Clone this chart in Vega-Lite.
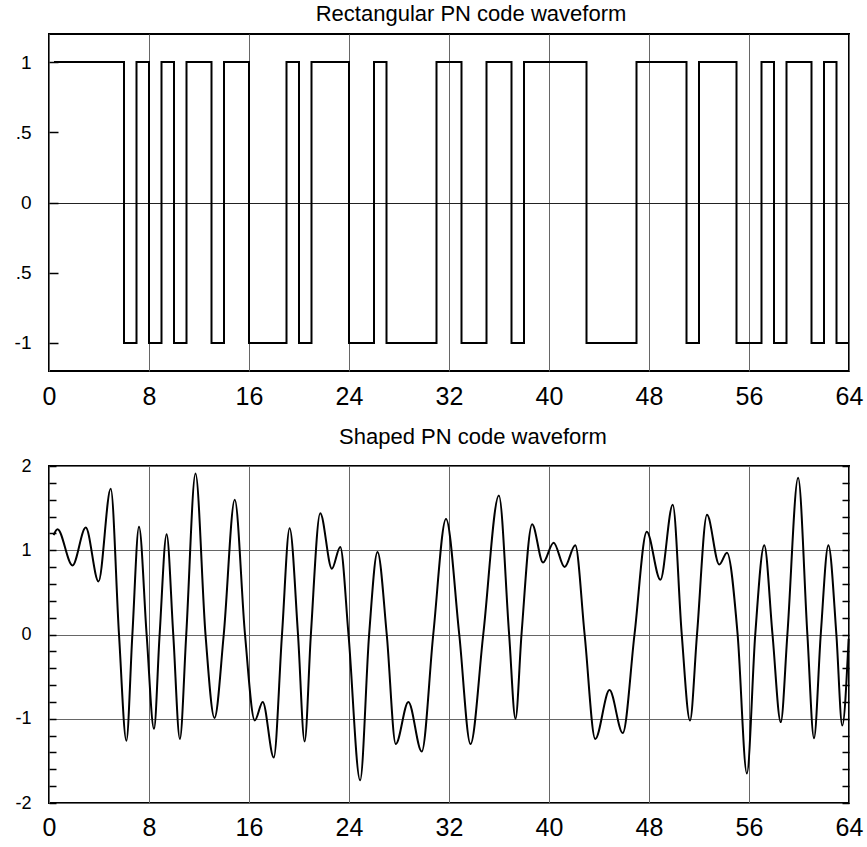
{
  "$schema": "https://vega.github.io/schema/vega-lite/v6.json",
  "background": "white",
  "padding": {"left": 13, "top": 2, "right": 2, "bottom": 0},
  "autosize": {"type": "pad"},
  "config": {
    "font": "Liberation Sans",
    "view": {"stroke": "black", "strokeWidth": 2},
    "axis": {"domain": false, "labelColor": "black", "labelFont": "Liberation Sans", "gridColor": "#666666", "gridWidth": 1, "tickColor": "black", "tickWidth": 1.5, "labelFlush": false, "labelOverlap": false, "title": null},
    "title": {"font": "Liberation Sans", "fontSize": 22, "fontWeight": "normal", "color": "black"},
    "concat": {"spacing": 15}
  },
  "datasets": {
    "rect": [
      {"t": 0.4, "v": 1}, {"t": 6, "v": -1}, {"t": 7, "v": 1}, {"t": 8, "v": -1}, {"t": 9, "v": 1}, {"t": 10, "v": -1},
      {"t": 11, "v": 1}, {"t": 13, "v": -1}, {"t": 14, "v": 1}, {"t": 16, "v": -1}, {"t": 19, "v": 1}, {"t": 20, "v": -1},
      {"t": 21, "v": 1}, {"t": 24, "v": -1}, {"t": 26, "v": 1}, {"t": 27, "v": -1}, {"t": 31, "v": 1}, {"t": 33, "v": -1},
      {"t": 35, "v": 1}, {"t": 37, "v": -1}, {"t": 38, "v": 1}, {"t": 43, "v": -1}, {"t": 47, "v": 1}, {"t": 51, "v": -1},
      {"t": 52, "v": 1}, {"t": 55, "v": -1}, {"t": 57, "v": 1}, {"t": 58, "v": -1}, {"t": 59, "v": 1}, {"t": 61, "v": -1},
      {"t": 62, "v": 1}, {"t": 63, "v": -1}, {"t": 64, "v": -1}
    ],
    "shaped": [
      {"t": 0.37, "v": 1.18}, {"t": 0.68, "v": 1.25}, {"t": 1.88, "v": 0.82}, {"t": 2.94, "v": 1.27}, {"t": 3.96, "v": 0.63},
      {"t": 4.94, "v": 1.73}, {"t": 5.6, "v": 0}, {"t": 6.19, "v": -1.26}, {"t": 6.67, "v": 0}, {"t": 7.2, "v": 1.28},
      {"t": 7.81, "v": 0}, {"t": 8.4, "v": -1.12}, {"t": 8.85, "v": 0}, {"t": 9.41, "v": 1.19}, {"t": 9.94, "v": 0},
      {"t": 10.47, "v": -1.24}, {"t": 10.98, "v": 0}, {"t": 11.72, "v": 1.91}, {"t": 12.52, "v": 0}, {"t": 13.24, "v": -0.99},
      {"t": 13.98, "v": 0}, {"t": 14.86, "v": 1.6}, {"t": 15.68, "v": 0}, {"t": 16.46, "v": -1.02}, {"t": 17.1, "v": -0.8},
      {"t": 17.98, "v": -1.46}, {"t": 18.64, "v": 0}, {"t": 19.25, "v": 1.26}, {"t": 19.92, "v": 0}, {"t": 20.45, "v": -1.27},
      {"t": 20.95, "v": 0}, {"t": 21.7, "v": 1.44}, {"t": 22.63, "v": 0.78}, {"t": 23.3, "v": 1.04}, {"t": 23.96, "v": 0},
      {"t": 24.89, "v": -1.73}, {"t": 25.61, "v": 0}, {"t": 26.28, "v": 0.98}, {"t": 27.02, "v": 0}, {"t": 27.74, "v": -1.3},
      {"t": 28.75, "v": -0.8}, {"t": 29.82, "v": -1.39}, {"t": 30.74, "v": 0}, {"t": 31.76, "v": 1.37}, {"t": 32.82, "v": 0},
      {"t": 33.72, "v": -1.3}, {"t": 34.74, "v": 0}, {"t": 35.99, "v": 1.65}, {"t": 36.81, "v": 0}, {"t": 37.32, "v": -1.0},
      {"t": 37.8, "v": 0}, {"t": 38.65, "v": 1.31}, {"t": 39.52, "v": 0.855}, {"t": 40.37, "v": 1.09}, {"t": 41.25, "v": 0.8},
      {"t": 42.1, "v": 1.06}, {"t": 42.85, "v": 0}, {"t": 43.7, "v": -1.24}, {"t": 44.84, "v": -0.66}, {"t": 45.9, "v": -1.17},
      {"t": 46.84, "v": 0}, {"t": 47.82, "v": 1.22}, {"t": 48.91, "v": 0.65}, {"t": 49.9, "v": 1.54}, {"t": 50.62, "v": 0},
      {"t": 51.28, "v": -1.02}, {"t": 51.84, "v": 0}, {"t": 52.64, "v": 1.42}, {"t": 53.62, "v": 0.83}, {"t": 54.24, "v": 0.97},
      {"t": 55.09, "v": 0}, {"t": 55.83, "v": -1.65}, {"t": 56.5, "v": 0}, {"t": 57.22, "v": 1.06}, {"t": 57.88, "v": 0},
      {"t": 58.54, "v": -1.04}, {"t": 59.07, "v": 0}, {"t": 59.93, "v": 1.86}, {"t": 60.67, "v": 0}, {"t": 61.2, "v": -1.23},
      {"t": 61.74, "v": 0}, {"t": 62.35, "v": 1.06}, {"t": 62.99, "v": 0}, {"t": 63.46, "v": -1.08}, {"t": 63.97, "v": -0.05}
    ]
  },
  "vconcat": [
    {
      "title": {"text": "Rectangular PN code waveform", "dx": 22, "offset": 8},
      "width": 800,
      "height": 337,
      "data": {"name": "rect"},
      "mark": {"type": "line", "interpolate": "step-after", "color": "black", "strokeWidth": 2},
      "encoding": {
        "x": {
          "field": "t", "type": "quantitative",
          "scale": {"domain": [0, 64], "nice": false, "zero": false},
          "axis": {"values": [0, 8, 16, 24, 32, 40, 48, 56, 64], "ticks": false, "labelFontSize": 25, "labelPadding": 13, "grid": true}
        },
        "y": {
          "field": "v", "type": "quantitative",
          "scale": {"domain": [-1.2, 1.2], "nice": false, "zero": false},
          "axis": {
            "values": [-1, -0.5, 0, 0.5, 1],
            "labelExpr": "datum.value == 1 ? '1' : datum.value == 0.5 ? '.5' : datum.value == 0 ? '0' : datum.value == -0.5 ? '.5' : '-1'",
            "labelFontSize": 19, "tickSize": -9, "labelPadding": 27,
            "grid": true, "gridColor": "#222222",
            "gridOpacity": {"condition": {"test": "datum.value === 0", "value": 1}, "value": 0}
          }
        }
      }
    },
    {
      "title": {"text": "Shaped PN code waveform", "dx": 24, "offset": 8},
      "width": 800,
      "height": 337,
      "data": {"name": "shaped"},
      "encoding": {
        "x": {
          "field": "t", "type": "quantitative",
          "scale": {"domain": [0, 64], "nice": false, "zero": false},
          "axis": {"values": [0, 8, 16, 24, 32, 40, 48, 56, 64], "ticks": false, "labelFontSize": 25, "labelPadding": 12, "grid": true}
        }
      },
      "layer": [
        {
          "mark": {"type": "line", "interpolate": "monotone", "color": "black", "strokeWidth": 2},
          "encoding": {
            "y": {
              "field": "v", "type": "quantitative",
              "scale": {"domain": [-2, 2], "nice": false, "zero": false},
              "axis": {
                "values": [-2, -1.8, -1.6, -1.4, -1.2, -1, -0.8, -0.6, -0.4, -0.2, 0, 0.2, 0.4, 0.6, 0.8, 1, 1.2, 1.4, 1.6, 1.8, 2],
                "labelExpr": "abs(datum.value - round(datum.value)) < 0.001 ? '' + round(datum.value) : ''",
                "labelFontSize": 18, "tickSize": -7, "labelPadding": 25,
                "grid": true,
                "gridOpacity": {"condition": {"test": "abs(datum.value - round(datum.value)) < 0.001", "value": 1}, "value": 0}
              }
            }
          }
        },
        {
          "mark": {"type": "line", "opacity": 0},
          "encoding": {
            "y": {
              "field": "v", "type": "quantitative",
              "axis": {
                "orient": "right",
                "values": [-2, -1.8, -1.6, -1.4, -1.2, -1, -0.8, -0.6, -0.4, -0.2, 0, 0.2, 0.4, 0.6, 0.8, 1, 1.2, 1.4, 1.6, 1.8, 2],
                "labels": false, "tickSize": -7, "grid": false
              }
            }
          }
        }
      ],
      "resolve": {"axis": {"y": "independent"}}
    }
  ]
}
